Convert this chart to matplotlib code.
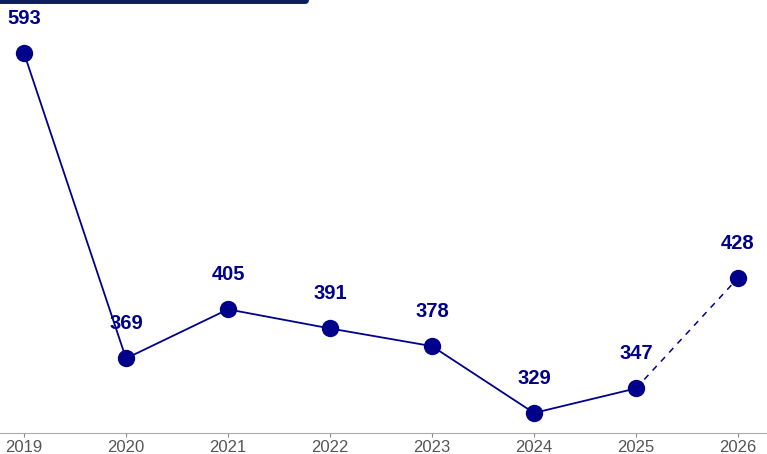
import matplotlib
matplotlib.use("Agg")
import matplotlib.pyplot as plt
from matplotlib.lines import Line2D

years = [2019, 2020, 2021, 2022, 2023, 2024, 2025, 2026]
values = [593, 369, 405, 391, 378, 329, 347, 428]
tick_labels = [str(y) for y in years]

navy = "#00008B"
plt.rcParams['font.family'] = ['Liberation Sans', 'DejaVu Sans']

fig = plt.figure(figsize=(7.67, 4.54), dpi=100)
ax = fig.add_axes([0, 21/454, 1, 433/454])

ax.plot(years[:-1], values[:-1], color=navy, lw=1.3, zorder=2)
ax.plot(years[-2:], values[-2:], color=navy, lw=1.1, ls=(0, (4, 4)), zorder=2)
ax.plot(years, values, 'o', color=navy, ms=12.5, zorder=3, markeredgewidth=0)
for x, v in zip(years, values):
    ax.annotate(str(v), (x, v), xytext=(0, 25), textcoords='offset points',
                ha='center', va='center', color=navy, fontsize=14.5, fontweight='bold')

ax.set_xlim(2019 - 24/102, 2026 + 29/102)
ax.set_ylim(314.3, 631.9)
ax.set_xticks(years)
ax.set_xticklabels(tick_labels, fontsize=12, color='#555555')
ax.set_yticks([])
for s in ['top', 'right', 'left']:
    ax.spines[s].set_visible(False)
ax.spines['bottom'].set_color('#aaaaaa')
ax.tick_params(axis='x', length=3, color='#888888', pad=2)

fig.add_artist(Line2D([0, 305/767], [1.0, 1.0], transform=fig.transFigure,
                      color='#0d1f5c', lw=5, solid_capstyle='round'))

fig.savefig('out.png', dpi=100)
